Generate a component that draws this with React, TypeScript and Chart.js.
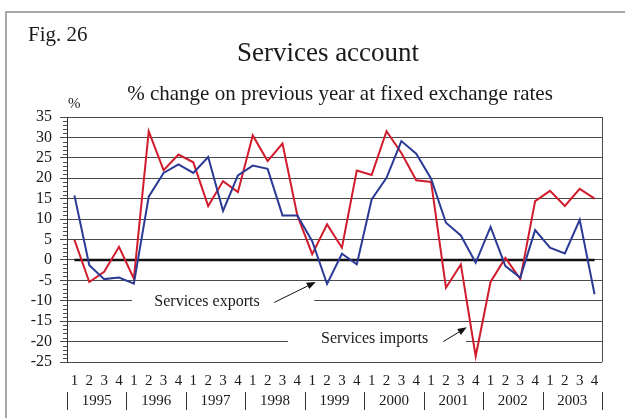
import React, { useEffect, useRef } from "react";
import { Chart, registerables } from "chart.js";

Chart.register(...registerables);

const years = ["1995", "1996", "1997", "1998", "1999", "2000", "2001", "2002", "2003"];
const quarters = ["1", "2", "3", "4"];

const exportsGrowth = [
  15.8, -1.3, -4.7, -4.3,
  -5.8, 15.5, 21.3, 23.4,
  21.3, 25.2, 12.0, 20.7,
  23.1, 22.3, 10.9, 10.9,
  4.6, -5.9, 1.5, -1.1,
  14.8, 20.1, 29.1, 26.0,
  19.9, 9.1, 6.0, -0.7,
  8.1, -1.5, -4.3, 7.3,
  3.0, 1.6, 9.8, -8.4,
];

const importsGrowth = [
  4.9, -5.4, -2.9, 3.2,
  -4.6, 31.5, 22.0, 25.8,
  23.9, 13.2, 19.3, 16.6,
  30.5, 24.2, 28.5, 10.9,
  1.4, 8.7, 3.0, 21.9,
  20.8, 31.5, 26.2, 19.5,
  19.1, -6.8, -1.1, -23.6,
  -5.4, 0.5, -4.7, 14.4,
  16.9, 13.2, 17.4, 15.0,
];

const yMin = -25;
const yMax = 35;
const yStep = 5;

// annotation anchors in data units (x: category index, y: value)
const annotationTexts = ["Services exports", "Services imports"];
const annotationTextX = [8.92, 20.2];
const annotationTextY = [-10.3, -19.4];
const annotationBoxFrom = [3.87, 14.37];
const annotationBoxTo = [16.14, 26.35];
const arrowTail = [[13.45, -10.4], [24.82, -20.0]];
const arrowHead = [[16.24, -5.4], [26.4, -16.5]];

const labels = years.flatMap(() => quarters);

const SERIF = '"Liberation Serif", "Times New Roman", serif';
const TEXT = "#1a1a1a";
const GRID = "#4a4a4a";

const decorPlugin = {
  id: "decor",
  beforeDraw(chart: any) {
    const { ctx } = chart;
    ctx.save();
    ctx.fillStyle = "#ffffff";
    ctx.fillRect(0, 0, chart.width, chart.height);
    ctx.strokeStyle = "#8c8c8c";
    ctx.lineWidth = 1.5;
    ctx.strokeRect(6, 12, chart.width + 40, chart.height + 40);

    ctx.fillStyle = TEXT;
    ctx.textBaseline = "alphabetic";
    ctx.textAlign = "left";
    ctx.font = `21px ${SERIF}`;
    ctx.fillText("Fig. 26", 28, 41);
    ctx.textAlign = "center";
    ctx.font = `27px ${SERIF}`;
    ctx.fillText("Services account", 328, 61);
    ctx.font = `21px ${SERIF}`;
    ctx.fillText("% change on previous year at fixed exchange rates", 340, 100);
    ctx.textAlign = "left";
    ctx.font = `15px ${SERIF}`;
    ctx.fillText("%", 68, 108);
    ctx.restore();
  },
  beforeDatasetsDraw(chart: any) {
    const { ctx, chartArea: a } = chart;
    const x = chart.scales.x;
    const y = chart.scales.y;
    ctx.save();
    // minor ticks
    ctx.strokeStyle = GRID;
    ctx.lineWidth = 1;
    ctx.beginPath();
    for (let v = yMin; v <= yMax; v++) {
      if (v % yStep === 0) continue;
      const py = Math.round(y.getPixelForValue(v)) + 0.5;
      ctx.moveTo(a.left - 4, py);
      ctx.lineTo(a.left, py);
    }
    ctx.stroke();
    // right border of plot
    ctx.beginPath();
    ctx.moveTo(Math.round(a.right) + 0.5, a.top);
    ctx.lineTo(Math.round(a.right) + 0.5, a.bottom);
    ctx.stroke();
    // white boxes behind annotation labels
    ctx.fillStyle = "#ffffff";
    for (let k = 0; k < annotationTexts.length; k++) {
      const x0 = x.getPixelForValue(annotationBoxFrom[k]);
      const x1 = x.getPixelForValue(annotationBoxTo[k]);
      const cy = y.getPixelForValue(annotationTextY[k]);
      ctx.fillRect(x0, cy - 10, x1 - x0, 20);
    }
    // zero line
    ctx.strokeStyle = "#111111";
    ctx.lineWidth = 2.5;
    ctx.beginPath();
    const y0 = y.getPixelForValue(0);
    ctx.moveTo(x.getPixelForValue(0), y0);
    ctx.lineTo(x.getPixelForValue(labels.length - 1), y0);
    ctx.stroke();
    ctx.restore();
  },
  afterDatasetsDraw(chart: any) {
    const { ctx } = chart;
    const x = chart.scales.x;
    const y = chart.scales.y;
    ctx.save();
    ctx.fillStyle = TEXT;
    ctx.strokeStyle = "#111111";
    ctx.font = `16px ${SERIF}`;
    ctx.textAlign = "center";
    ctx.textBaseline = "middle";
    for (let k = 0; k < annotationTexts.length; k++) {
      ctx.fillText(
        annotationTexts[k],
        x.getPixelForValue(annotationTextX[k]),
        y.getPixelForValue(annotationTextY[k])
      );
      const tx = x.getPixelForValue(arrowTail[k][0]);
      const ty = y.getPixelForValue(arrowTail[k][1]);
      const hx = x.getPixelForValue(arrowHead[k][0]);
      const hy = y.getPixelForValue(arrowHead[k][1]);
      const ang = Math.atan2(hy - ty, hx - tx);
      const len = 9;
      const wid = 3.5;
      const bx = hx - len * Math.cos(ang);
      const by = hy - len * Math.sin(ang);
      ctx.lineWidth = 1;
      ctx.beginPath();
      ctx.moveTo(tx, ty);
      ctx.lineTo(bx, by);
      ctx.stroke();
      ctx.beginPath();
      ctx.moveTo(hx, hy);
      ctx.lineTo(bx + wid * Math.sin(ang), by - wid * Math.cos(ang));
      ctx.lineTo(bx - wid * Math.sin(ang), by + wid * Math.cos(ang));
      ctx.closePath();
      ctx.fillStyle = "#111111";
      ctx.fill();
      ctx.fillStyle = TEXT;
    }
    ctx.restore();
  },
  afterDraw(chart: any) {
    const { ctx } = chart;
    const x = chart.scales.x;
    ctx.save();
    ctx.fillStyle = TEXT;
    ctx.strokeStyle = "#333333";
    ctx.lineWidth = 1;
    ctx.font = `15px ${SERIF}`;
    ctx.textAlign = "center";
    ctx.textBaseline = "middle";
    const n = quarters.length;
    ctx.beginPath();
    for (let k = 0; k <= years.length; k++) {
      const px = Math.round(x.getPixelForValue(k * n - 0.5)) + 0.5;
      ctx.moveTo(px, 392);
      ctx.lineTo(px, 410);
    }
    ctx.stroke();
    years.forEach((yr, k) => {
      ctx.fillText(yr, x.getPixelForValue(k * n + (n - 1) / 2), 401);
    });
    ctx.restore();
  },
};

export default function App() {
  const canvasRef = useRef<HTMLCanvasElement | null>(null);

  useEffect(() => {
    if (!canvasRef.current) return;
    const chart = new Chart(canvasRef.current, {
      type: "line",
      data: {
        labels,
        datasets: [
          {
            label: "Services exports",
            data: exportsGrowth,
            borderColor: "#2b3a94",
            borderWidth: 2,
            pointRadius: 0,
            tension: 0,
            fill: false,
          },
          {
            label: "Services imports",
            data: importsGrowth,
            borderColor: "#d01c2c",
            borderWidth: 2,
            pointRadius: 0,
            tension: 0,
            fill: false,
          },
        ],
      },
      options: {
        animation: false,
        responsive: true,
        maintainAspectRatio: false,
        layout: { padding: { left: 0, top: 117, right: 23, bottom: 0 } },
        plugins: {
          legend: { display: false },
          title: { display: false },
          tooltip: { enabled: false },
        },
        scales: {
          x: {
            type: "category",
            offset: true,
            grid: { display: false, drawTicks: false },
            border: { display: false },
            ticks: {
              autoSkip: false,
              maxRotation: 0,
              minRotation: 0,
              padding: 10,
              color: TEXT,
              font: { family: SERIF, size: 15 },
            },
            afterFit: (s: any) => {
              s.height = 56;
            },
          },
          y: {
            min: yMin,
            max: yMax,
            ticks: {
              stepSize: yStep,
              autoSkip: false,
              padding: 8,
              color: TEXT,
              font: { family: SERIF, size: 16 },
            },
            grid: { color: GRID, lineWidth: 1, tickLength: 7, drawTicks: true },
            border: { display: true, color: "#333333", width: 1 },
            afterFit: (s: any) => {
              s.width = 67;
            },
          },
        },
      },
      plugins: [decorPlugin],
    });
    return () => chart.destroy();
  }, []);

  return (
    <div style={{ position: "fixed", left: 0, top: 0, width: 625, height: 418 }}>
      <canvas ref={canvasRef} />
    </div>
  );
}
